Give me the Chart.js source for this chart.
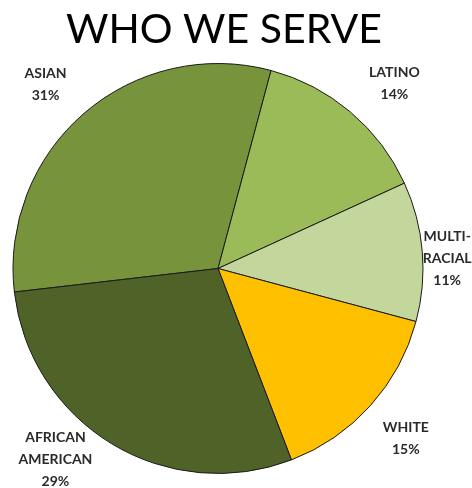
<!DOCTYPE html>
<html>
<head>
<meta charset="utf-8">
<script src="https://cdn.jsdelivr.net/npm/chart.js@4/dist/chart.umd.min.js"></script>
<style>
  html, body { margin: 0; padding: 0; background: #ffffff; }
  #wrap { width: 472px; height: 488px; position: relative; }
</style>
</head>
<body>
<div id="wrap"><canvas id="c" width="472" height="488"></canvas></div>
<script>
const titleText = 'WHO WE SERVE';
const categories = [['ASIAN'], ['LATINO'], ['MULTI-', 'RACIAL'], ['WHITE'], ['AFRICAN', 'AMERICAN']];
const shares = [31, 14, 11, 15, 29];
const sliceColors = ['#77933C', '#9BBB59', '#C3D69B', '#FFC000', '#4F6228'];
// label placement: offset (px) from the point at 1.22 * radius on each slice's mid-angle
const labelOffsets = [[-9, 5], [15, 6], [-20, 11], [2, 3], [-33, -23]];

const titlePlugin = {
  id: 'bigTitle',
  afterDraw(chart) {
    const ctx = chart.ctx;
    ctx.save();
    ctx.font = '400 41px Lato, "Open Sans", sans-serif';
    ctx.fillStyle = '#000000';
    ctx.textAlign = 'center';
    ctx.textBaseline = 'alphabetic';
    ctx.fillText(titleText, 224, 43);
    ctx.restore();
  }
};

const labelPlugin = {
  id: 'sliceLabels',
  afterDatasetsDraw(chart) {
    const ctx = chart.ctx;
    const meta = chart.getDatasetMeta(0);
    const total = shares.reduce((a, b) => a + b, 0);
    ctx.save();
    ctx.font = 'bold 14px Lato, "Open Sans", sans-serif';
    ctx.fillStyle = '#2a2a2a';
    ctx.textAlign = 'center';
    ctx.textBaseline = 'middle';
    meta.data.forEach((arc, i) => {
      const p = arc.getProps(['x', 'y', 'startAngle', 'endAngle', 'outerRadius'], true);
      const mid = (p.startAngle + p.endAngle) / 2;
      const r = p.outerRadius * 1.22;
      const cx = p.x + Math.cos(mid) * r + labelOffsets[i][0];
      const cy = p.y + Math.sin(mid) * r + labelOffsets[i][1];
      const lines = categories[i].concat([Math.round(shares[i] / total * 100) + '%']);
      const lh = 22;
      const y0 = cy - (lines.length - 1) * lh / 2;
      lines.forEach((t, k) => ctx.fillText(t, cx, y0 + k * lh));
    });
    ctx.restore();
  }
};

new Chart(document.getElementById('c'), {
  type: 'pie',
  data: {
    labels: categories.map(c => c.join(' ')),
    datasets: [{
      data: shares,
      backgroundColor: sliceColors,
      borderColor: '#1a1a1a',
      borderWidth: 1,
      hoverOffset: 0
    }]
  },
  options: {
    responsive: false,
    animation: false,
    rotation: -96.6,
    layout: { padding: { top: 63, bottom: 14, left: 0, right: 36 } },
    plugins: {
      legend: { display: false },
      tooltip: { enabled: false },
      title: { display: false }
    }
  },
  plugins: [titlePlugin, labelPlugin]
});
</script>
</body>
</html>
